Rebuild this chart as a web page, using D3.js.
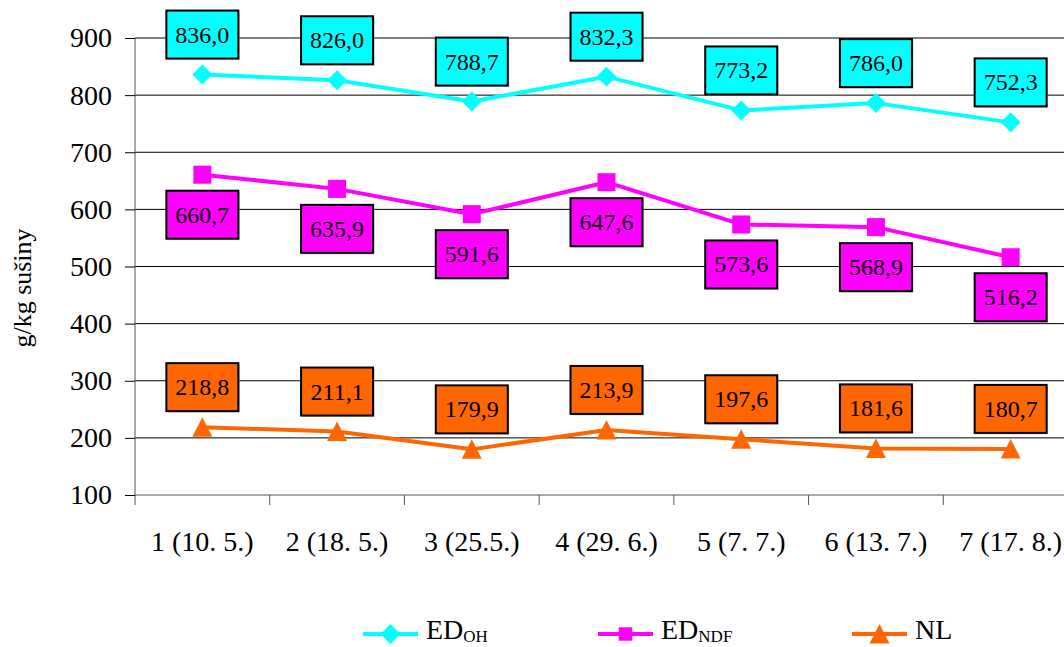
<!DOCTYPE html>
<html>
<head>
<meta charset="utf-8">
<script src="https://cdn.jsdelivr.net/npm/d3@7/dist/d3.min.js"></script>
<style>
  html, body { margin: 0; padding: 0; background: #fff; }
  svg { display: block; }
  svg text { font-family: "Liberation Serif", Tinos, "Times New Roman", Times, "DejaVu Serif", serif; fill: #000; }
</style>
</head>
<body>
<svg id="chart" width="1064" height="647"></svg>
<script>
// Sampling dates
const categories = ["1 (10. 5.)", "2 (18. 5.)", "3 (25.5.)", "4 (29. 6.)", "5 (7. 7.)", "6 (13. 7.)", "7 (17. 8.)"];

// g/kg dry matter
const edOH  = [836.0, 826.0, 788.7, 832.3, 773.2, 786.0, 752.3];
const edNDF = [660.7, 635.9, 591.6, 647.6, 573.6, 568.9, 516.2];
const nl    = [218.8, 211.1, 179.9, 213.9, 197.6, 181.6, 180.7];

const yTicks = [100, 200, 300, 400, 500, 600, 700, 800, 900];

const FONT = "'Liberation Serif', Tinos, 'Times New Roman', Times, 'DejaVu Serif', serif";

const series = [
  { name: "ED", sub: "OH",  values: edOH,  color: "#00FFFF", marker: "diamond",  labelSide: -1 },
  { name: "ED", sub: "NDF", values: edNDF, color: "#FF00FF", marker: "square",   labelSide: 1 },
  { name: "NL", sub: "",    values: nl,    color: "#FF6600", marker: "triangle", labelSide: -1 }
];

const svg = d3.select("#chart");

const x = d3.scaleBand().domain(categories).range([135, 1078]).paddingInner(0).paddingOuter(0);
const y = d3.scaleLinear().domain([100, 900]).range([495, 38]);

// Horizontal gridlines
svg.append("g")
  .selectAll("line")
  .data(yTicks.filter(d => d > 100))
  .join("line")
  .attr("x1", 135).attr("x2", 1064)
  .attr("y1", d => y(d)).attr("y2", d => y(d))
  .attr("stroke", "#000").attr("stroke-width", 1);

// Y axis
const yAxis = svg.append("g")
  .attr("transform", "translate(135,0)")
  .call(d3.axisLeft(y).tickValues(yTicks).tickSize(10).tickPadding(13).tickFormat(d3.format("d")));
yAxis.attr("font-family", FONT);
yAxis.select(".domain").attr("stroke", "#555").attr("d", `M-0,${y(900)}V${y(100) + 10}`);
yAxis.selectAll(".tick line").attr("stroke", "#000");
yAxis.selectAll(".tick text")
  .attr("font-size", 28)
  .attr("font-family", FONT)
  .attr("fill", "#000");

// X axis baseline and category boundary ticks
svg.append("line")
  .attr("x1", 135).attr("x2", 1064)
  .attr("y1", y(100)).attr("y2", y(100))
  .attr("stroke", "#555").attr("stroke-width", 1);

svg.append("g")
  .selectAll("line")
  .data(categories.slice(1))
  .join("line")
  .attr("x1", d => x(d)).attr("x2", d => x(d))
  .attr("y1", y(100)).attr("y2", y(100) + 10)
  .attr("stroke", "#555");

// Category labels
svg.append("g")
  .selectAll("text")
  .data(categories)
  .join("text")
  .attr("x", d => x(d) + x.bandwidth() / 2)
  .attr("y", 551)
  .attr("text-anchor", "middle")
  .attr("font-family", FONT)
  .attr("font-size", 28)
  .text(d => d);

// Y axis title
svg.append("text")
  .attr("transform", "translate(31,288) rotate(-90)")
  .attr("text-anchor", "middle")
  .attr("font-family", FONT)
  .attr("font-size", 26)
  .text("g/kg sušiny");

// Marker shapes
function markerPath(type, s = 1) {
  if (type === "diamond") return `M0,${-10 * s}L${10 * s},0L0,${10 * s}L${-10 * s},0Z`;
  if (type === "square") return `M${-9 * s},${-9 * s}H${9 * s}V${9 * s}H${-9 * s}Z`;
  return `M0,${-10 * s}L${10 * s},${9.5 * s}H${-10 * s}Z`;
}

const cx = (i) => x(categories[i]) + x.bandwidth() / 2;

const line = d3.line()
  .x((d, i) => cx(i))
  .y(d => y(d));

series.forEach(s => {
  const g = svg.append("g");
  g.append("path")
    .datum(s.values)
    .attr("d", line)
    .attr("fill", "none")
    .attr("stroke", s.color)
    .attr("stroke-width", 4)
    .attr("stroke-linejoin", "round");

  g.selectAll("path.mk")
    .data(s.values)
    .join("path")
    .attr("class", "mk")
    .attr("transform", (d, i) => `translate(${cx(i)},${y(d)})`)
    .attr("d", markerPath(s.marker))
    .attr("fill", s.color);
});

// Value labels in boxes
const fmt = (v) => v.toFixed(1).replace(".", ",");
const boxW = 72, boxH = 48;
series.forEach(s => {
  const lg = svg.append("g");
  s.values.forEach((v, i) => {
    const bx = cx(i), by = y(v) + s.labelSide * 40;
    lg.append("rect")
      .attr("x", bx - boxW / 2 + 1.5).attr("y", by - boxH / 2 + 1.5)
      .attr("width", boxW).attr("height", boxH)
      .attr("fill", "#999").attr("opacity", 0.5);
    lg.append("rect")
      .attr("x", bx - boxW / 2).attr("y", by - boxH / 2)
      .attr("width", boxW).attr("height", boxH)
      .attr("fill", s.color)
      .attr("stroke", "#000").attr("stroke-width", 2);
    lg.append("text")
      .attr("x", bx).attr("y", by + 8)
      .attr("text-anchor", "middle")
      .attr("font-family", FONT)
      .attr("font-size", 24)
      .text(fmt(v));
  });
});

// Legend
const legendX = [363, 598, 852];
const legend = svg.append("g");
series.forEach((s, k) => {
  const lx = legendX[k], ly = 634;
  legend.append("line")
    .attr("x1", lx).attr("x2", lx + 55)
    .attr("y1", ly).attr("y2", ly)
    .attr("stroke", s.color).attr("stroke-width", 4);
  legend.append("path")
    .attr("transform", `translate(${lx + 27.5},${ly})`)
    .attr("d", markerPath(s.marker, s.marker === "square" ? 0.75 : 1))
    .attr("fill", s.color);
  const t = legend.append("text")
    .attr("x", lx + 63).attr("y", 639)
    .attr("font-family", FONT)
    .attr("font-size", 28);
  t.append("tspan").text(s.name);
  if (s.sub) {
    t.append("tspan").attr("font-size", 17).attr("dy", 3).text(s.sub);
  }
});
</script>
</body>
</html>
